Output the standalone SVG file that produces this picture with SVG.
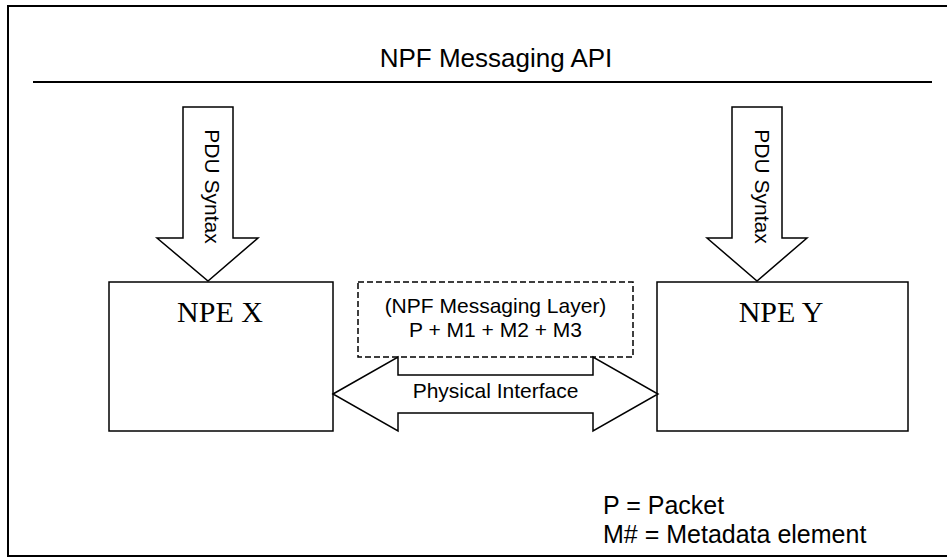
<svg xmlns="http://www.w3.org/2000/svg" width="947" height="558" viewBox="0 0 947 558">
<defs>
<style>
.ln{fill:none;stroke:#000;stroke-width:1.5}
.sh{fill:#fff;stroke:#000;stroke-width:1.5;stroke-linejoin:miter}
.ar{font-family:"Liberation Sans",Arial,sans-serif;fill:#000}
.tm{font-family:"Liberation Serif","Times New Roman",serif;fill:#000;font-size:30px;text-anchor:middle}
</style>
</defs>
<rect x="0" y="0" width="947" height="558" fill="#fff"/>
<rect x="8" y="6" width="945" height="550" fill="none" stroke="#000" stroke-width="2"/>
<g id="api">
<line x1="33" y1="82" x2="932" y2="82" stroke="#000" stroke-width="2"/>
<text class="ar" x="496" y="67" font-size="26" text-anchor="middle">NPF Messaging API</text>
</g>
<g id="npe-x">
<rect class="sh" x="109" y="282" width="224" height="149"/>
<text class="tm" x="220" y="322">NPE X</text>
</g>
<g id="npe-y">
<rect class="sh" x="657" y="282" width="251" height="149"/>
<text class="tm" x="781" y="322">NPE Y</text>
</g>
<g id="messaging-layer">
<rect x="358" y="282" width="275" height="75" fill="none" stroke="#000" stroke-width="1.5" stroke-dasharray="6 3"/>
<text class="ar" x="495.5" y="313" font-size="21" text-anchor="middle">(NPF Messaging Layer)</text>
<text class="ar" x="495.5" y="337" font-size="21" text-anchor="middle">P + M1 + M2 + M3</text>
</g>
<g id="connectors">
<g id="pdu-x">
<polygon class="sh" points="183,107 233,107 233,238 258,238 208,281 157,238 183,238"/>
<text class="ar" font-size="21" text-anchor="middle" transform="translate(205,186.5) rotate(90)">PDU Syntax</text>
</g>
<g id="pdu-y">
<polygon class="sh" points="732,107 782,107 782,238 807,238 757,281 707,238 732,238"/>
<text class="ar" font-size="21" text-anchor="middle" transform="translate(755,186.5) rotate(90)">PDU Syntax</text>
</g>
<g id="physical">
<polygon class="sh" points="333,394 398,357 398,375 593,375 593,357 658,394 593,431 593,413 398,413 398,431"/>
<text class="ar" x="495.5" y="398" font-size="21" text-anchor="middle">Physical Interface</text>
</g>
</g>
<g id="legend">
<text class="ar" x="603" y="514" font-size="25">P = Packet</text>
<text class="ar" x="603" y="543" font-size="25">M# = Metadata element</text>
</g>
</svg>
